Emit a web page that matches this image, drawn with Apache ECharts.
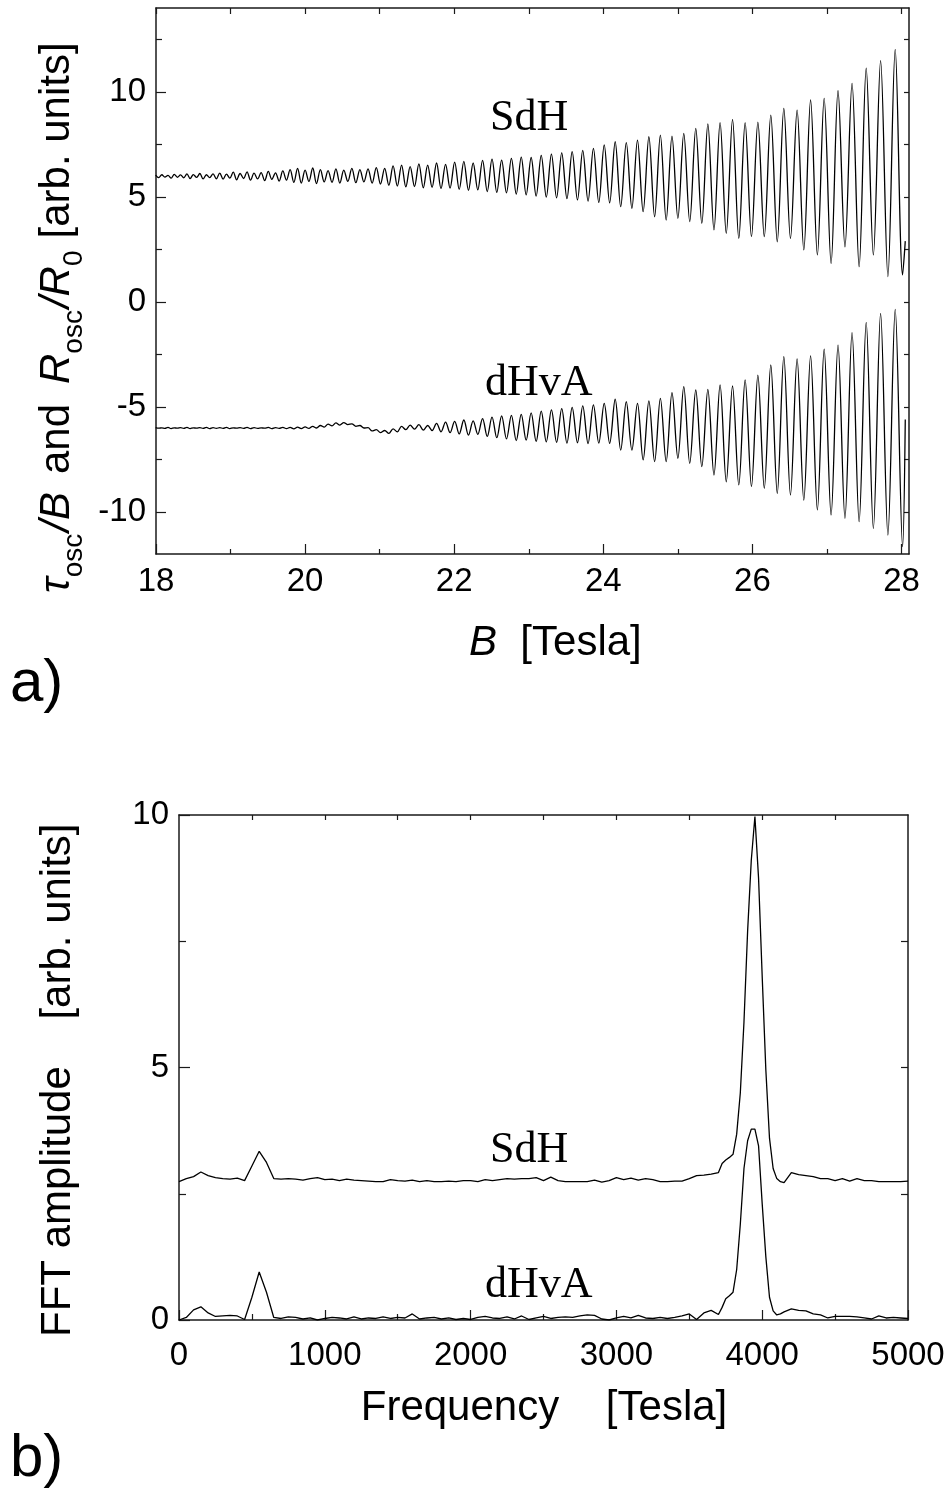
<!DOCTYPE html>
<html>
<head>
<meta charset="utf-8">
<script src="https://cdn.jsdelivr.net/npm/echarts@6/dist/echarts.min.js"></script>
<style>
  html, body { margin: 0; padding: 0; background: #fff; }
  #chart { width: 948px; height: 1501px; }
</style>
</head>
<body>
<div id="chart"></div>
<script>
// ---- panel a): oscillations vs field, one point per extremum ----
const fieldPeak = [
  17.995, 18.078, 18.161, 18.245, 18.329, 18.415, 18.501, 18.588, 18.676, 18.765,
  18.855, 18.945, 19.036, 19.128, 19.221, 19.315, 19.410, 19.506, 19.603, 19.701,
  19.799, 19.899, 20.000, 20.102, 20.205, 20.308, 20.413, 20.519, 20.627, 20.735,
  20.844, 20.955, 21.067, 21.180, 21.294, 21.409, 21.526, 21.644, 21.763, 21.884,
  22.006, 22.129, 22.254, 22.380, 22.507, 22.636, 22.767, 22.899, 23.032, 23.167,
  23.304, 23.442, 23.582, 23.724, 23.867, 24.012, 24.159, 24.308, 24.458, 24.611,
  24.765, 24.921, 25.079, 25.240, 25.402, 25.566, 25.733, 25.902, 26.073, 26.246,
  26.421, 26.599, 26.780, 26.962, 27.148, 27.336, 27.526, 27.719, 27.915
];
const fieldValley = [
  18.037, 18.119, 18.203, 18.287, 18.372, 18.458, 18.545, 18.632, 18.720, 18.810,
  18.900, 18.990, 19.082, 19.175, 19.268, 19.363, 19.458, 19.554, 19.652, 19.750,
  19.849, 19.949, 20.051, 20.153, 20.256, 20.361, 20.466, 20.573, 20.681, 20.789,
  20.899, 21.011, 21.123, 21.237, 21.351, 21.467, 21.585, 21.703, 21.823, 21.944,
  22.067, 22.191, 22.316, 22.443, 22.571, 22.701, 22.832, 22.965, 23.099, 23.235,
  23.373, 23.512, 23.653, 23.795, 23.939, 24.085, 24.233, 24.383, 24.534, 24.688,
  24.843, 25.000, 25.159, 25.321, 25.484, 25.649, 25.817, 25.987, 26.159, 26.333,
  26.510, 26.689, 26.871, 27.055, 27.241, 27.431, 27.622, 27.817, 28.014
];
const sdhPeak = [
  6.04, 6.06, 6.03, 6.08, 6.05, 6.10, 6.07, 6.12, 6.06, 6.10,
  6.14, 6.09, 6.18, 6.12, 6.20, 6.14, 6.16, 6.22, 6.15, 6.24,
  6.30, 6.36, 6.28, 6.38, 6.30, 6.26, 6.34, 6.28, 6.36, 6.30,
  6.34, 6.40, 6.36, 6.48, 6.52, 6.45, 6.58, 6.52, 6.62, 6.55,
  6.66, 6.70, 6.62, 6.74, 6.80, 6.76, 6.84, 6.90, 6.88, 6.98,
  7.04, 7.10, 7.16, 7.22, 7.32, 7.48, 7.63, 7.59, 7.71, 7.87,
  7.95, 7.90, 8.03, 8.27, 8.48, 8.54, 8.70, 8.54, 8.57, 8.90,
  9.22, 9.14, 9.62, 9.70, 10.06, 10.41, 11.13, 11.49, 12.03
];
const sdhValley = [
  5.92, 5.95, 5.90, 5.94, 5.91, 5.88, 5.93, 5.86, 5.92, 5.87,
  5.85, 5.90, 5.82, 5.88, 5.80, 5.86, 5.78, 5.84, 5.76, 5.80,
  5.70, 5.66, 5.74, 5.64, 5.72, 5.70, 5.66, 5.74, 5.68, 5.72,
  5.66, 5.62, 5.56, 5.52, 5.48, 5.50, 5.44, 5.46, 5.40, 5.42,
  5.36, 5.32, 5.34, 5.26, 5.22, 5.20, 5.14, 5.10, 5.04, 5.00,
  4.96, 4.92, 4.86, 4.80, 4.74, 4.72, 4.54, 4.46, 4.30, 4.06,
  3.90, 3.98, 3.83, 3.75, 3.43, 3.27, 3.03, 3.11, 3.11, 2.87,
  3.03, 2.48, 2.24, 1.84, 2.63, 1.68, 2.24, 1.21, 1.29
];
const dhvaPeak = [
  -5.98, -5.99, -5.97, -5.99, -5.98, -5.97, -5.99, -5.98, -5.97, -5.98,
  -5.98, -5.97, -5.99, -5.98, -5.97, -5.98, -5.99, -5.97, -5.98, -5.97,
  -5.97, -5.96, -5.95, -5.92, -5.88, -5.82, -5.76, -5.74, -5.80, -5.88,
  -5.98, -6.08, -6.12, -6.04, -5.92, -5.86, -5.84, -5.88, -5.78, -5.72,
  -5.68, -5.62, -5.66, -5.55, -5.48, -5.42, -5.40, -5.35, -5.28, -5.20,
  -5.14, -5.08, -5.02, -4.95, -4.90, -4.83, -4.63, -4.75, -4.83, -4.71,
  -4.59, -4.32, -4.03, -4.19, -4.16, -3.95, -4.00, -3.71, -3.48, -3.00,
  -2.60, -2.71, -2.57, -2.25, -2.05, -1.46, -0.97, -0.54, -0.35
];
const dhvaValley = [
  -6.01, -6.02, -6.03, -6.01, -6.02, -6.03, -6.01, -6.02, -6.03, -6.02,
  -6.02, -6.03, -6.01, -6.02, -6.03, -6.02, -6.01, -6.03, -6.02, -6.03,
  -6.04, -6.03, -6.02, -6.00, -5.96, -5.90, -5.86, -5.84, -5.92, -6.00,
  -6.14, -6.22, -6.26, -6.18, -6.08, -6.05, -6.10, -6.12, -6.18, -6.22,
  -6.28, -6.34, -6.30, -6.40, -6.46, -6.52, -6.60, -6.58, -6.64, -6.66,
  -6.68, -6.72, -6.70, -6.74, -6.72, -6.73, -7.05, -7.05, -7.52, -7.60,
  -7.60, -7.44, -7.68, -7.84, -8.24, -8.56, -8.71, -8.79, -8.87, -9.11,
  -9.19, -9.43, -9.90, -10.14, -10.30, -10.46, -10.78, -11.10, -11.65
];
const fieldEnd = 28.05;
const sdhEnd = 2.9;
const dhvaEnd = -5.6;

const fieldLabels = [18, 20, 22, 24, 26, 28];
const fieldMinor = [19, 21, 23, 25, 27];
const fieldTop = [18, 19, 20, 21, 22, 23, 24, 25, 26, 27, 28];
const oscLabels = [-10, -5, 0, 5, 10];
const oscMinor = [-7.5, -2.5, 2.5, 7.5, 12.5];
const oscRight = [-10, -7.5, -5, -2.5, 0, 2.5, 5, 7.5, 10, 12.5];

// ---- panel b): FFT spectra ----
const fftFreq = [
  0, 50, 100, 150, 200, 250, 300, 350, 400, 450,
  500, 550, 600, 650, 700, 750, 800, 850, 900, 950,
  1000, 1050, 1100, 1150, 1200, 1250, 1300, 1350, 1400, 1450,
  1500, 1550, 1600, 1650, 1700, 1750, 1800, 1850, 1900, 1950,
  2000, 2050, 2100, 2150, 2200, 2250, 2300, 2350, 2400, 2450,
  2500, 2550, 2600, 2650, 2700, 2750, 2800, 2850, 2900, 2950,
  3000, 3050, 3100, 3150, 3200, 3250, 3300, 3350, 3400, 3450,
  3500, 3550, 3600, 3650, 3700, 3725, 3750, 3775, 3800, 3825,
  3850, 3875, 3900, 3925, 3950, 3975, 4000, 4025, 4050, 4075,
  4100, 4125, 4150, 4200, 4250, 4300, 4350, 4400, 4450, 4500,
  4550, 4600, 4650, 4700, 4750, 4800, 4850, 4900, 4950, 5000
];
const fftSdh = [
  2.74, 2.80, 2.84, 2.93, 2.86, 2.82, 2.80, 2.79, 2.81, 2.76,
  3.05, 3.34, 3.12, 2.80, 2.79, 2.80, 2.79, 2.77, 2.80, 2.82,
  2.78, 2.79, 2.76, 2.79, 2.77, 2.76, 2.75, 2.74, 2.74, 2.78,
  2.76, 2.75, 2.77, 2.74, 2.76, 2.74, 2.74, 2.75, 2.74, 2.76,
  2.76, 2.74, 2.78, 2.76, 2.78, 2.80, 2.79, 2.80, 2.80, 2.82,
  2.76, 2.83, 2.76, 2.74, 2.74, 2.74, 2.74, 2.77, 2.73, 2.76,
  2.82, 2.78, 2.81, 2.77, 2.80, 2.78, 2.74, 2.74, 2.75, 2.75,
  2.80, 2.86, 2.87, 2.89, 2.92, 3.10, 3.17, 3.22, 3.28, 3.68,
  4.50, 5.90, 7.70, 9.10, 9.97, 8.75, 6.80, 4.95, 3.60, 3.00,
  2.80, 2.74, 2.72, 2.92, 2.88, 2.86, 2.84, 2.80, 2.80, 2.76,
  2.80, 2.75, 2.80, 2.76, 2.76, 2.74, 2.74, 2.74, 2.74, 2.75
];
const fftDhva = [
  0.00, 0.05, 0.20, 0.26, 0.14, 0.07, 0.08, 0.09, 0.08, 0.01,
  0.45, 0.95, 0.55, 0.05, 0.03, 0.06, 0.05, 0.02, 0.04, 0.00,
  0.03, 0.05, 0.04, 0.02, 0.06, 0.02, 0.04, 0.03, 0.06, 0.03,
  0.05, 0.04, 0.12, 0.02, 0.04, 0.05, 0.02, 0.04, 0.01, 0.03,
  0.01, 0.05, 0.07, 0.04, 0.03, 0.06, 0.02, 0.08, 0.01, 0.04,
  0.07, 0.03, 0.05, 0.06, 0.05, 0.08, 0.10, 0.09, 0.02, 0.00,
  0.04, 0.07, 0.04, 0.09, 0.04, 0.03, 0.05, 0.03, 0.05, 0.08,
  0.12, 0.01, 0.14, 0.19, 0.11, 0.25, 0.42, 0.48, 0.55, 1.00,
  1.90, 3.00, 3.55, 3.78, 3.78, 3.45, 2.30, 1.25, 0.45, 0.18,
  0.10, 0.12, 0.16, 0.22, 0.19, 0.18, 0.12, 0.10, 0.04, 0.07,
  0.07, 0.07, 0.06, 0.04, 0.02, 0.08, 0.04, 0.05, 0.04, 0.03
];

const freqLabels = [0, 1000, 2000, 3000, 4000, 5000];
const freqMinor = [500, 1500, 2500, 3500, 4500];
const freqTop = [500, 1000, 1500, 2000, 2500, 3000, 3500, 4000, 4500];
const ampLabels = [0, 5, 10];
const ampMinor = [2.5, 7.5];
const ampRight = [2.5, 5, 7.5];

// ---- helpers ----
const SANS = '"Liberation Sans", Arial, sans-serif';
const SERIF = '"Liberation Serif", "Times New Roman", serif';
const INK = '#1a1a1a';

function oscillation(peaks, valleys, endB, endY) {
  const pts = [];
  for (let i = 0; i < fieldPeak.length; i++) {
    pts.push([fieldPeak[i], peaks[i]]);
    pts.push([fieldValley[i], valleys[i]]);
  }
  pts.push([endB, endY]);
  return pts;
}

function pairs(xs, ys) {
  return xs.map((x, i) => [x, ys[i]]);
}

function axis(o) {
  return {
    type: 'value',
    gridIndex: o.grid,
    position: o.pos,
    min: o.min,
    max: o.max,
    axisLine: { show: o.line !== false, onZero: false, lineStyle: { color: INK, width: 1.5 } },
    axisTick: { show: true, inside: true, length: o.tickLen, customValues: o.ticks, lineStyle: { color: INK, width: 1.2 } },
    axisLabel: o.labels
      ? { show: true, customValues: o.labels, margin: o.margin || 10, fontSize: 33, color: '#000', fontFamily: SANS,
          formatter: v => String(v) }
      : { show: false },
    splitLine: { show: false },
    minorTick: { show: false }
  };
}

const measureCtx = document.createElement('canvas').getContext('2d');
function textWidth(str, font) {
  measureCtx.font = font;
  return measureCtx.measureText(str).width;
}

function textEl(x, y, text, font, align) {
  return {
    type: 'text', x, y, silent: true,
    style: {
      text, font, fill: '#000',
      textAlign: align || 'left', textVerticalAlign: 'middle',
      align: align || 'left', verticalAlign: 'middle'
    }
  };
}

// pieces laid one after another along a rotated (bottom-to-top) baseline
function rotatedTitle(x, y, pieces) {
  let pos = 0;
  const children = pieces.map(p => {
    const font = (p.italic ? 'italic ' : '') + p.size + 'px ' + SANS;
    pos += p.gap || 0;
    const el = textEl(pos, p.dy || 0, p.text, font);
    pos += textWidth(p.text, font);
    return el;
  });
  return { type: 'group', x, y, rotation: Math.PI / 2, children };
}

function rowTitle(x, y, pieces) {
  let pos = x;
  return pieces.map(p => {
    const font = (p.italic ? 'italic ' : '') + p.size + 'px ' + SANS;
    const el = textEl(pos, y, p.text, font);
    pos += textWidth(p.text, font);
    return el;
  });
}

// ---- layout ----
const gridA = { left: 156, top: 8, width: 753, height: 546 };
const gridB = { left: 179, top: 815, width: 729, height: 505 };

const chart = echarts.init(document.getElementById('chart'), null, { renderer: 'canvas' });

const lineStyle = { color: '#000', width: 1.3 };

chart.setOption({
  animation: false,
  backgroundColor: '#fff',
  grid: [
    Object.assign({ containLabel: false, outerBoundsMode: 'none' }, gridA),
    Object.assign({ containLabel: false, outerBoundsMode: 'none' }, gridA),
    Object.assign({ containLabel: false, outerBoundsMode: 'none' }, gridB),
    Object.assign({ containLabel: false, outerBoundsMode: 'none' }, gridB)
  ],
  xAxis: [
    axis({ grid: 0, pos: 'bottom', min: 18, max: 28.1, tickLen: 10, ticks: fieldLabels, labels: fieldLabels, margin: 11 }),
    axis({ grid: 0, pos: 'top', min: 18, max: 28.1, tickLen: 6, ticks: fieldTop }),
    axis({ grid: 1, pos: 'bottom', min: 18, max: 28.1, tickLen: 5, ticks: fieldMinor, line: false }),
    axis({ grid: 2, pos: 'bottom', min: 0, max: 5000, tickLen: 10, ticks: freqLabels, labels: freqLabels, margin: 19 }),
    axis({ grid: 2, pos: 'top', min: 0, max: 5000, tickLen: 5, ticks: freqTop }),
    axis({ grid: 3, pos: 'bottom', min: 0, max: 5000, tickLen: 6, ticks: freqMinor, line: false })
  ],
  yAxis: [
    axis({ grid: 0, pos: 'left', min: -12, max: 14, tickLen: 10, ticks: oscLabels, labels: oscLabels }),
    axis({ grid: 0, pos: 'right', min: -12, max: 14, tickLen: 5, ticks: oscRight }),
    axis({ grid: 1, pos: 'left', min: -12, max: 14, tickLen: 6, ticks: oscMinor, line: false }),
    axis({ grid: 2, pos: 'left', min: 0, max: 10, tickLen: 11, ticks: ampLabels, labels: ampLabels }),
    axis({ grid: 2, pos: 'right', min: 0, max: 10, tickLen: 7, ticks: ampRight }),
    axis({ grid: 3, pos: 'left', min: 0, max: 10, tickLen: 7, ticks: ampMinor, line: false })
  ],
  series: [
    { type: 'line', name: 'SdH', xAxisIndex: 0, yAxisIndex: 0, data: oscillation(sdhPeak, sdhValley, fieldEnd, sdhEnd),
      symbol: 'none', smooth: 0.35, lineStyle, silent: true, clip: true },
    { type: 'line', name: 'dHvA', xAxisIndex: 0, yAxisIndex: 0, data: oscillation(dhvaPeak, dhvaValley, fieldEnd, dhvaEnd),
      symbol: 'none', smooth: 0.35, lineStyle, silent: true, clip: true },
    { type: 'line', name: 'SdH FFT', xAxisIndex: 3, yAxisIndex: 3, data: pairs(fftFreq, fftSdh),
      symbol: 'none', lineStyle, silent: true, clip: true },
    { type: 'line', name: 'dHvA FFT', xAxisIndex: 3, yAxisIndex: 3, data: pairs(fftFreq, fftDhva),
      symbol: 'none', lineStyle, silent: true, clip: true }
  ],
  graphic: [
    textEl(490, 118, 'SdH', '44px ' + SERIF),
    textEl(485, 383, 'dHvA', '44px ' + SERIF),
    textEl(490, 1150, 'SdH', '44px ' + SERIF),
    textEl(485, 1285, 'dHvA', '44px ' + SERIF),
    textEl(10, 684, 'a)', '60px ' + SANS),
    textEl(10, 1459, 'b)', '60px ' + SANS),
    ...rowTitle(469, 643, [
      { text: 'B', italic: true, size: 42 },
      { text: '  [Tesla]', size: 42 }
    ]),
    textEl(544, 1408, 'Frequency    [Tesla]', '42px ' + SANS, 'center'),
    rotatedTitle(57, 593, [
      { text: 'τ', italic: true, size: 42 },
      { text: 'osc', size: 28, dy: 17 },
      { text: '/B', italic: true, size: 42, gap: 2 },
      { text: 'and', size: 42, gap: 18 },
      { text: 'R', italic: true, size: 42, gap: 20 },
      { text: 'osc', size: 28, dy: 17 },
      { text: '/R', italic: true, size: 42, gap: 2 },
      { text: '0', size: 28, dy: 17 },
      { text: '[arb. units]', size: 42, gap: 12 }
    ]),
    rotatedTitle(58, 1337, [
      { text: 'FFT amplitude    [arb. units]', size: 42 }
    ])
  ]
});
</script>
</body>
</html>
